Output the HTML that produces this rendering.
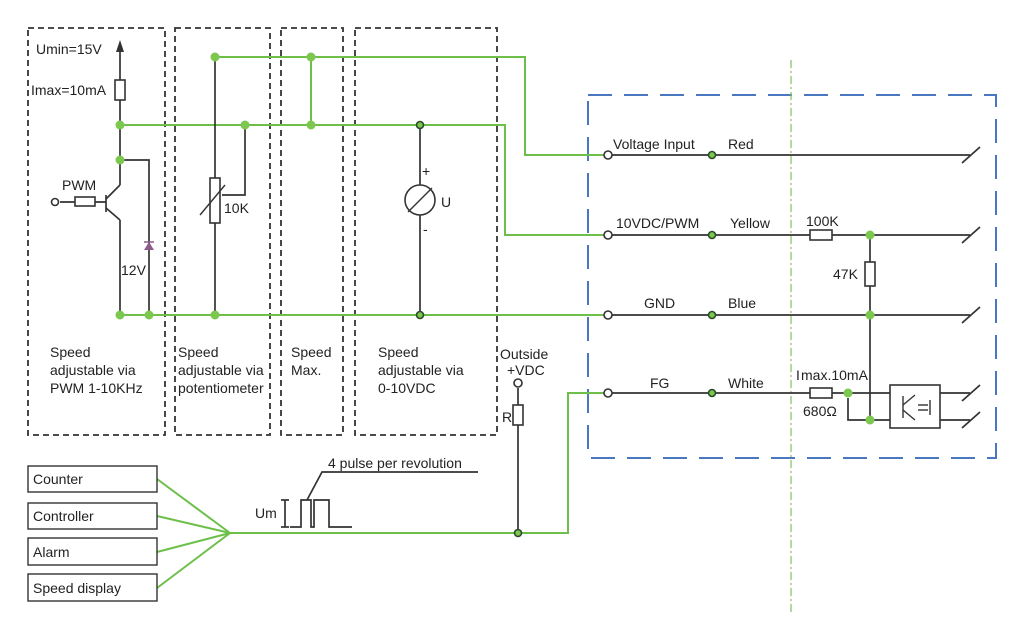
<!DOCTYPE html>
<html><head><style>
body{margin:0;background:#fff}
svg{display:block}
text{font-family:"Liberation Sans",Arial,sans-serif;font-size:14px;fill:#222}
</style></head><body>
<svg width="1024" height="628" viewBox="0 0 1024 628" xmlns="http://www.w3.org/2000/svg">
<g fill="none" stroke="#333" stroke-width="1.8" stroke-dasharray="6,4">
<rect x="28" y="28" width="137" height="407"/>
<rect x="175" y="28" width="95" height="407"/>
<rect x="281" y="28" width="62" height="407"/>
<rect x="355" y="28" width="142" height="407"/>
</g>
<rect x="588" y="95" width="408" height="363" fill="none" stroke="#4a78c0" stroke-width="2" stroke-dasharray="24,12"/>
<line x1="791" y1="60" x2="791" y2="612" stroke="#7cc05a" stroke-width="1.2" stroke-dasharray="8,3,2,3"/>
<g fill="none" stroke="#6cc04a" stroke-width="2">
<polyline points="215,57 525,57 525,155 604,155"/>
<polyline points="120,125 505,125 505,235 604,235"/>
<line x1="120" y1="315" x2="604" y2="315"/>
<polyline points="604,393 568,393 568,533 230,533"/>
<line x1="230" y1="533" x2="157" y2="479"/>
<line x1="230" y1="533" x2="157" y2="516"/>
<line x1="230" y1="533" x2="157" y2="552"/>
<line x1="230" y1="533" x2="157" y2="588"/>
<line x1="311" y1="57" x2="311" y2="125"/>
</g>
<g fill="none" stroke="#333" stroke-width="1.7">
<line x1="120" y1="45" x2="120" y2="185"/>
<polyline points="120,160 149,160 149,315"/>
<line x1="120" y1="220" x2="120" y2="315"/>
<polyline points="106,195 106,212"/>
<line x1="106" y1="199" x2="120" y2="185"/>
<line x1="106" y1="208" x2="120" y2="220"/>
<line x1="60" y1="202" x2="106" y2="202"/>
<line x1="215" y1="57" x2="215" y2="315"/>
<polyline points="245,125 245,195 222,195"/>
<line x1="420" y1="125" x2="420" y2="315"/>
<line x1="518" y1="388" x2="518" y2="533"/>
<line x1="612" y1="155" x2="970" y2="155"/>
<line x1="612" y1="235" x2="970" y2="235"/>
<line x1="612" y1="315" x2="970" y2="315"/>
<line x1="612" y1="393" x2="890" y2="393"/>
<line x1="870" y1="235" x2="870" y2="420"/>
<polyline points="848,398 848,420 890,420"/>
<line x1="940" y1="393" x2="970" y2="393"/>
<line x1="940" y1="420" x2="970" y2="420"/>
<line x1="962" y1="163" x2="980" y2="147"/>
<line x1="962" y1="243" x2="980" y2="227"/>
<line x1="962" y1="323" x2="980" y2="307"/>
<line x1="962" y1="401" x2="980" y2="385"/>
<line x1="962" y1="428" x2="980" y2="412"/>
<polyline points="290,527 301,527 301,500 311,500 311,527 314,527 314,500 329,500 329,527 352,527"/>
<polyline points="307,500 322,472 478,472"/>
<line x1="285" y1="500" x2="285" y2="527"/>
<line x1="281" y1="500" x2="289" y2="500"/><line x1="281" y1="527" x2="289" y2="527"/>
</g>
<g fill="#fff" stroke="#333" stroke-width="1.6">
<rect x="115" y="80" width="10" height="20"/>
<rect x="75" y="197" width="20" height="9"/>
<rect x="210" y="178" width="10" height="45"/>
<circle cx="420" cy="200" r="15"/>
<rect x="513" y="405" width="10" height="20"/>
<rect x="810" y="230" width="22" height="10"/>
<rect x="865" y="262" width="10" height="24"/>
<rect x="810" y="388" width="22" height="10"/>
<rect x="890" y="385" width="50" height="43"/>
<circle cx="55" cy="202" r="3.5"/>
<circle cx="518" cy="383" r="4"/>
<circle cx="608" cy="155" r="4"/><circle cx="608" cy="235" r="4"/><circle cx="608" cy="315" r="4"/><circle cx="608" cy="393" r="4"/>
</g>
<g stroke="#333" stroke-width="1.4" fill="none">
<line x1="408" y1="212" x2="432" y2="188"/>
<line x1="200" y1="215" x2="225" y2="185"/>
<polyline points="903,396 903,418"/><line x1="903" y1="405" x2="915" y2="395"/><line x1="903" y1="410" x2="915" y2="420"/>
<line x1="918" y1="405" x2="928" y2="405"/><line x1="918" y1="410" x2="928" y2="410"/>
<polyline points="930,400 930,415"/>
</g>
<polygon points="120,40 116,52 124,52" fill="#333"/>
<polygon points="144,250 154,250 149,242" fill="#8a5a8a"/>
<line x1="144" y1="242" x2="154" y2="242" stroke="#8a5a8a" stroke-width="1.5"/>
<g fill="#7cc84f">
<circle cx="215" cy="57" r="4.5"/><circle cx="311" cy="57" r="4.5"/>
<circle cx="120" cy="125" r="4.5"/><circle cx="245" cy="125" r="4.5"/><circle cx="311" cy="125" r="4.5"/>
<circle cx="120" cy="160" r="4.5"/>
<circle cx="120" cy="315" r="4.5"/><circle cx="149" cy="315" r="4.5"/><circle cx="215" cy="315" r="4.5"/>
<circle cx="870" cy="235" r="4.5"/><circle cx="870" cy="315" r="4.5"/><circle cx="870" cy="420" r="4.5"/><circle cx="848" cy="393" r="4.5"/>
</g>
<g fill="#7cc84f" stroke="#2a4a2a" stroke-width="1.6">
<circle cx="420" cy="125" r="3.5"/><circle cx="420" cy="315" r="3.5"/><circle cx="518" cy="533" r="3.5"/>
<circle cx="712" cy="155" r="3.5"/><circle cx="712" cy="235" r="3.5"/><circle cx="712" cy="315" r="3.5"/><circle cx="712" cy="393" r="3.5"/>
</g>
<g fill="#fff" stroke="#333" stroke-width="1.4">
<rect x="28" y="466" width="129" height="26"/>
<rect x="28" y="503" width="129" height="26"/>
<rect x="28" y="538" width="129" height="27"/>
<rect x="28" y="574" width="129" height="27"/>
</g>
<text x="36" y="54">Umin=15V</text>
<text x="31" y="95">Imax=10mA</text>
<text x="62" y="190">PWM</text>
<text x="121" y="275">12V</text>
<text x="224" y="213">10K</text>
<text x="422" y="176" font-size="16">+</text>
<text x="423" y="234" font-size="16">-</text>
<text x="441" y="207">U</text>
<text x="50" y="357">Speed</text><text x="50" y="375">adjustable via</text><text x="50" y="393">PWM 1-10KHz</text>
<text x="178" y="357">Speed</text><text x="178" y="375">adjustable via</text><text x="178" y="393">potentiometer</text>
<text x="291" y="357">Speed</text><text x="291" y="375">Max.</text>
<text x="378" y="357">Speed</text><text x="378" y="375">adjustable via</text><text x="378" y="393">0-10VDC</text>
<text x="500" y="359">Outside</text><text x="507" y="375">+VDC</text>
<text x="502" y="422">R</text>
<text x="328" y="468">4 pulse per revolution</text>
<text x="255" y="518">Um</text>
<text x="33" y="484">Counter</text>
<text x="33" y="521">Controller</text>
<text x="33" y="557">Alarm</text>
<text x="33" y="593">Speed display</text>
<text x="613" y="149">Voltage Input</text><text x="728" y="149">Red</text>
<text x="616" y="228">10VDC/PWM</text><text x="730" y="228">Yellow</text>
<text x="644" y="308">GND</text><text x="728" y="308">Blue</text>
<text x="650" y="388">FG</text><text x="728" y="388">White</text>
<text x="806" y="226">100K</text>
<text x="833" y="279">47K</text>
<text x="796" y="380" font-size="11">I</text><text x="801" y="380" font-size="11">max.10mA</text>
<text x="803" y="416">680Ω</text>
</svg>
</body></html>
